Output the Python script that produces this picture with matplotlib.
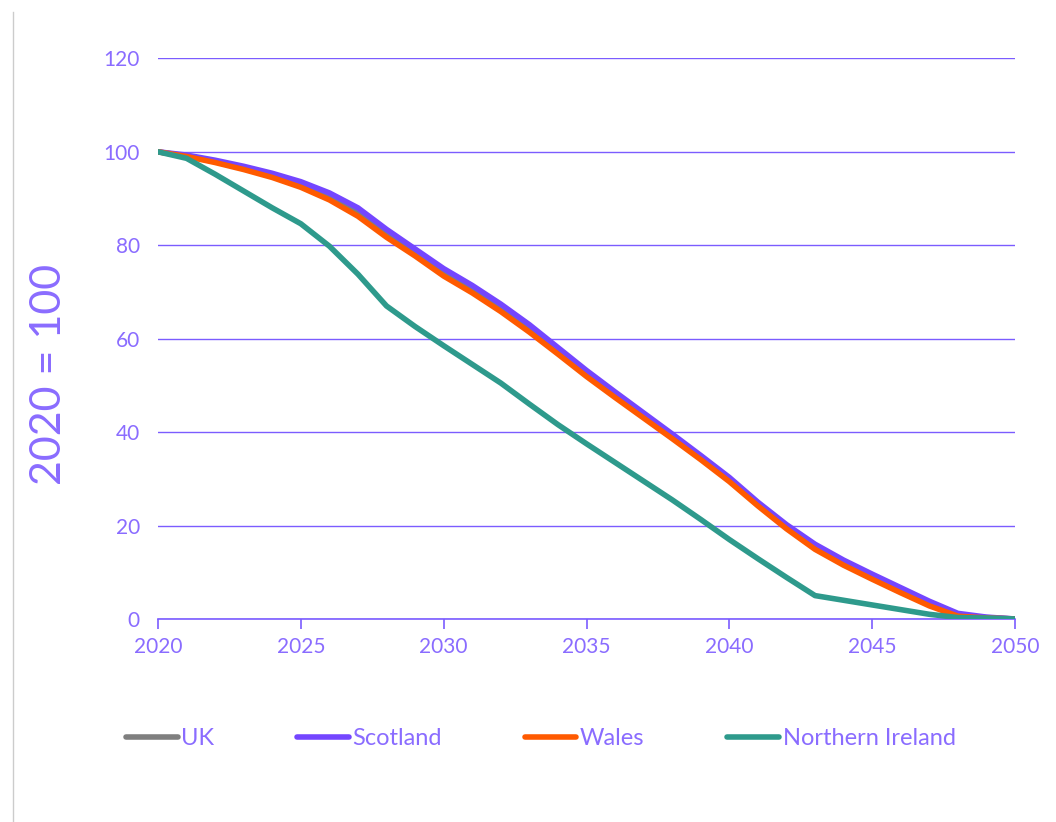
import matplotlib
matplotlib.use("Agg")
from matplotlib import pyplot as plt
from matplotlib.lines import Line2D

years = list(range(2020, 2051))

scotland = [100, 99.3, 98.2, 96.9, 95.4, 93.6, 91.2, 88.0, 83.4, 79.2, 75.0,
            71.4, 67.4, 63.0, 58.1, 53.2, 48.6, 44.1, 39.6, 35.0, 30.3,
            25.0, 20.2, 16.0, 12.6, 9.6, 6.7, 3.8, 1.2, 0.4, 0.0]
wales = [100, 99.0, 97.7, 96.2, 94.5, 92.4, 89.7, 86.2, 81.7, 77.7, 73.4,
         69.8, 65.8, 61.4, 56.7, 51.9, 47.4, 43.0, 38.6, 34.1, 29.4,
         24.2, 19.3, 14.9, 11.5, 8.5, 5.6, 2.8, 0.6, 0.2, 0.0]
uk = [100, 99.1, 97.9, 96.5, 94.9, 93.0, 90.4, 87.0, 82.5, 78.4, 74.2,
      70.6, 66.6, 62.2, 57.4, 52.5, 48.0, 43.5, 39.1, 34.5, 29.8,
      24.6, 19.7, 15.4, 12.0, 9.0, 6.1, 3.2, 0.8, 0.3, 0.0]
n_ireland = [100, 98.6, 95.2, 91.6, 88.0, 84.6, 79.8, 73.8, 67.0, 62.6, 58.5,
             54.5, 50.5, 46.0, 41.6, 37.5, 33.5, 29.5, 25.5, 21.3, 17.0,
             12.9, 8.9, 5.0, 4.0, 3.0, 2.0, 1.0, 0.3, 0.2, 0.0]

names = ["UK", "Scotland", "Wales", "Northern Ireland"]
colours = ["#7f7f7f", "#7446ff", "#ff5a00", "#2e9a8c"]
txt = "#8a6cff"

plt.rcParams['font.family'] = ['Lato', 'DejaVu Sans']

fig = plt.figure(figsize=(10.56, 8.22), dpi=100)
ax = fig.add_axes([0.1496, 0.247, 0.8116, 0.682])

for series, col in zip([uk, scotland, wales, n_ireland], colours):
    ax.plot(years, series, color=col, lw=4, solid_joinstyle="round",
            solid_capstyle="round", zorder=3)

ax.set_xlim(2020, 2050)
ax.set_ylim(0, 120)
ax.set_xticks(range(2020, 2051, 5))
ax.set_yticks(range(0, 121, 20))
ax.grid(axis="y", color="#7b5cff", lw=1)
ax.set_axisbelow(True)
for s in ["left", "right", "top"]:
    ax.spines[s].set_visible(False)
ax.spines["bottom"].set_color("#7b5cff")
ax.spines["bottom"].set_linewidth(1.2)
ax.tick_params(axis="x", colors="#7b5cff", length=7, width=1.2,
               labelcolor=txt, labelsize=15, pad=6)
ax.tick_params(axis="y", length=0, labelcolor=txt, labelsize=15, pad=13)

# axis title sits a bit below the middle of the plot
fig.text(0.046, 0.544, "2020 = 100", color=txt, fontsize=31,
         rotation=90, ha="center", va="center")

handles = [Line2D([], [], color=c, lw=4, solid_capstyle="round") for c in colours]
fig.legend(handles, names, loc="center", bbox_to_anchor=(0.512, 0.101),
           ncol=4, frameon=False, fontsize=17, labelcolor=txt,
           handlelength=2.2, handletextpad=0.15, columnspacing=3.5)

# thin frame edge on the left
fig.add_artist(Line2D([0.0125, 0.0125], [0.0, 0.985], color="#cccccc", lw=1))

fig.savefig("out.png", dpi=100, facecolor="white")
